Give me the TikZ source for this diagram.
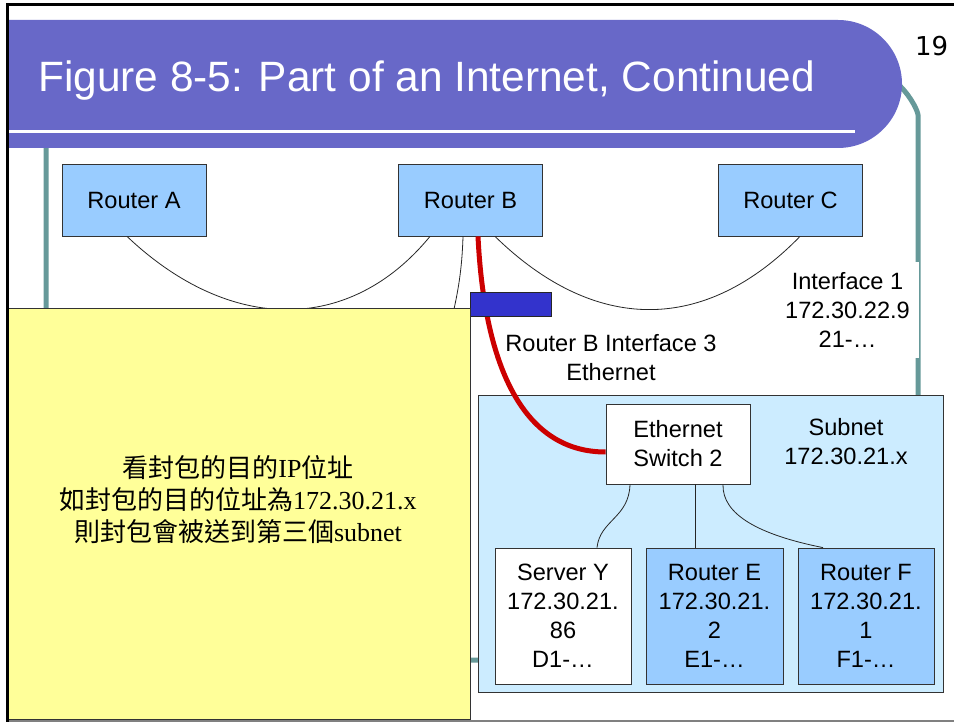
\documentclass[tikz,border=0pt]{standalone}
\usepackage{fontspec}
\setmainfont{Liberation Sans}
\newfontfamily\cjk{Noto Sans CJK TC}
\newfontfamily\tms{Liberation Serif}
\newfontfamily\pagenumfont{DejaVu Sans}

\definecolor{titlebar}{HTML}{6868C8}
\definecolor{frameteal}{HTML}{669999}
\definecolor{routerblue}{HTML}{99CCFF}
\definecolor{subnetblue}{HTML}{CCECFF}
\definecolor{notey}{HTML}{FFFF99}
\definecolor{portblue}{HTML}{3333CC}
\definecolor{linkred}{HTML}{CC0000}

\begin{document}
\begin{tikzpicture}[x=1pt,y=-1pt,
  labelfont/.style={font=\fontsize{23.6}{29}\selectfont, align=center},
  routerbox/.style={labelfont, draw=black!80, line width=0.8pt, fill=routerblue,
    inner sep=0pt, minimum width=144pt, minimum height=72pt},
  hostbox/.style={labelfont, draw=black!80, line width=0.8pt,
    inner sep=0pt, minimum width=136pt, minimum height=136pt},
  wire/.style={draw=black!85, line width=0.8pt},
  lbl/.style={labelfont, inner sep=0pt}]

\useasboundingbox (0,0) rectangle (954,722);
\fill[white] (0,0) rectangle (954,722);

% slide frame line (teal), mostly hidden behind the boxes
\draw[frameteal, line width=5pt, rounded corners=20pt]
  (46,130) -- (46,660) -- (918,660) -- (918,135)
  .. controls (918,112) and (912,98) .. (900,86);

% title bar with rounded right end
\fill[titlebar] (8,20) -- (838,20) .. controls (873.3,20) and (902,48.7) .. (902,84)
  .. controls (902,119.3) and (873.3,148) .. (838,148) -- (8,148) -- cycle;
\draw[white, line width=3pt] (8,132) -- (855,132);
\node[anchor=base west, text=white, inner sep=0pt,
  font=\fontsize{42.4}{50}\selectfont] (title) at (38,92)
  {Figure 8-5: Part of an Internet, Continued};
\node[anchor=base west, inner sep=0pt, font=\pagenumfont\fontsize{26}{30}\selectfont]
  (pagenum) at (915,56) {19};

% subnet area
\node[draw=black!80, line width=0.8pt, fill=subnetblue, minimum width=465pt,
  minimum height=297pt, inner sep=0pt] (sub) at (710.5,543.5) {};
\node[lbl] (sublbl) at (846,441.5) {Subnet\\172.30.21.x};

% routers on the upper network
\node[routerbox] (ra) at (134,200) {Router A};
\node[routerbox] (rb) at (470.5,200) {Router B};
\node[routerbox] (rc) at (790.5,200) {Router C};

% switch and hosts in the subnet
\node[labelfont, draw=black!80, line width=0.8pt, fill=white, inner sep=0pt,
  minimum width=144pt, minimum height=80pt] (sw) at (678,444) {Ethernet\\Switch 2};
\node[hostbox, fill=white] (sy) at (563,616) {Server Y\\172.30.21.\\86\\D1-…};
\node[hostbox, fill=routerblue, minimum width=137pt] (re) at (714.5,616) {Router E\\172.30.21.\\2\\E1-…};
\node[hostbox, fill=routerblue] (rf) at (866,616) {Router F\\172.30.21.\\1\\F1-…};

% links between routers
\draw[wire] ([xshift=-7pt]ra.south) .. controls (230,334) and (350,334) .. ([xshift=-40.5pt]rb.south);
\draw[wire] ([xshift=24.5pt]rb.south) .. controls (595,334) and (705,334) .. ([xshift=9.5pt]rc.south);
\coordinate (drop) at (452,318);
\draw[wire] ([xshift=-7.5pt]rb.south) .. controls (462,270) and (458,292) .. (drop);

% switch to hosts
\draw[wire] ([xshift=-48pt]sw.south) .. controls (629,518) and (600,520) .. ([xshift=34pt]sy.north);
\draw[wire] ([xshift=17pt]sw.south) -- ([xshift=17pt]sw.south |- re.north);
\draw[wire] ([xshift=45pt]sw.south) .. controls (722,515) and (760,535) .. ([xshift=-43pt]rf.north);

% Router B interface 3 link to the switch
\draw[linkred, line width=5pt] ([xshift=7.5pt]rb.south) .. controls (484,360) and (520,452) .. ([yshift=-8pt]sw.west);
\node[draw=black!85, line width=0.8pt, fill=portblue, minimum width=81pt,
  minimum height=24pt, inner sep=0pt] (port) at (510.5,304) {};

% note box
\node[draw=black!80, line width=0.8pt, fill=notey, minimum width=462pt,
  minimum height=411pt, inner sep=0pt] (note) at (239,513.5) {};
\node[inner sep=0pt, align=center, font=\fontsize{26}{32}\selectfont] (notetext) at (238,500)
  {{\cjk 看封包的目的}{\tms IP}{\cjk 位址}\\
   {\cjk 如封包的目的位址為}{\tms 172.30.21.x}\\
   {\cjk 則封包會被送到第三個}{\tms subnet}};

% labels
\node[lbl] (lab3) at (611,358) {Router B Interface 3\\Ethernet};
\node[lbl, fill=white, minimum width=143pt, minimum height=96pt] (lab1) at (847.5,310)
  {Interface 1\\172.30.22.9\\21-…};

% slide border
\draw[black!50, line width=1.5pt] (8,721) -- (954,721);
\draw[black, line width=3pt] (7.5,722) -- (7.5,5) -- (954,5);
\end{tikzpicture}
\end{document}
